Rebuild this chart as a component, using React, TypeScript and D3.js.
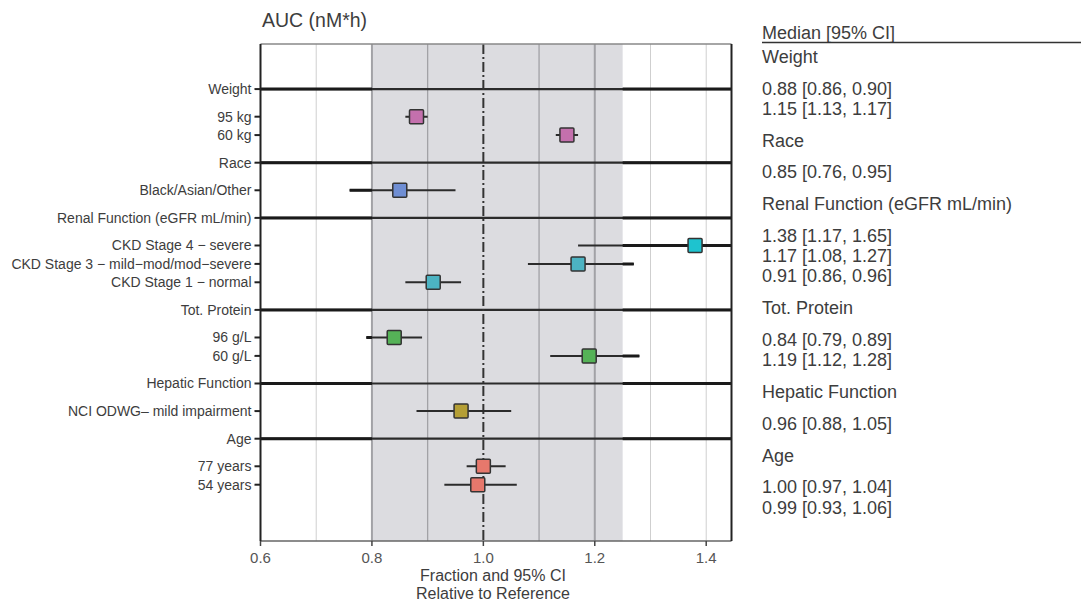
import React from "react";
import * as d3 from "d3";

const groupNames = ["Weight", "Race", "Renal Function (eGFR mL/min)", "Tot. Protein", "Hepatic Function", "Age"];
const rowGroup = [0, 0, 1, 2, 2, 2, 3, 3, 4, 5, 5];
const rowLabels = [
  "95 kg",
  "60 kg",
  "Black/Asian/Other",
  "CKD Stage 4 \u2212 severe",
  "CKD Stage 3 \u2212 mild\u2212mod/mod\u2212severe",
  "CKD Stage 1 \u2212 normal",
  "96 g/L",
  "60 g/L",
  "NCI ODWG\u2013 mild impairment",
  "77 years",
  "54 years",
];
const medians = [0.88, 1.15, 0.85, 1.38, 1.17, 0.91, 0.84, 1.19, 0.96, 1.0, 0.99];
const lowers = [0.86, 1.13, 0.76, 1.17, 1.08, 0.86, 0.79, 1.12, 0.88, 0.97, 0.93];
const uppers = [0.9, 1.17, 0.95, 1.65, 1.27, 0.96, 0.89, 1.28, 1.05, 1.04, 1.06];
const rowColors = ["#c470ad", "#c470ad", "#6f8ed3", "#1ec3cf", "#4cb3c2", "#4cb3c2", "#55b257", "#55b257", "#b59f35", "#e7786c", "#e7786c"];
const xTicks = [0.6, 0.8, 1.0, 1.2, 1.4];
const lightGrid = [0.7, 1.3, 1.4];
const bandGrid = [0.8, 0.9, 1.1, 1.2];
const bandRange = [0.8, 1.25];

const W = 1081;
const H = 603;
const left = 260.5;
const right = 731.5;
const top = 44;
const bottom = 541;

const fmt = d3.format(".2f");

type Entry = { kind: "header" | "row"; label: string; u: number; idx: number };

function buildEntries(): Entry[] {
  const out: Entry[] = [];
  let u = 0;
  groupNames.forEach((g, gi) => {
    if (gi > 0) u += 1.5;
    out.push({ kind: "header", label: g, u, idx: gi });
    let first = true;
    rowGroup.forEach((rg, ri) => {
      if (rg !== gi) return;
      u += first ? 1.5 : 1;
      first = false;
      out.push({ kind: "row", label: rowLabels[ri], u, idx: ri });
    });
  });
  return out;
}

export default function App() {
  const entries = buildEntries();
  const x = d3.scaleLinear().domain([0.6, 1.4454]).range([left, right]);
  const y = d3.scaleLinear().domain([-2.45, 24.56]).range([top, bottom]);
  const font = "Liberation Sans, Arial, sans-serif";
  const sq = 14;

  const textItems: { label: string; y: number; header: boolean }[] = [];
  let ty = 57;
  let prev: "header" | "row" | null = null;
  entries.forEach((e) => {
    if (prev !== null) {
      if (e.kind === "header") ty += 32;
      else if (prev === "header") ty += 31.5;
      else ty += 20.3;
    }
    prev = e.kind;
    if (e.kind === "header") textItems.push({ label: e.label, y: ty, header: true });
    else
      textItems.push({
        label: `${fmt(medians[e.idx])} [${fmt(lowers[e.idx])}, ${fmt(uppers[e.idx])}]`,
        y: ty,
        header: false,
      });
  });

  const rows = entries.filter((e) => e.kind === "row");
  const headers = entries.filter((e) => e.kind === "header");
  const txtCol = "#3d3d3d";

  return (
    <svg width={W} height={H} style={{ position: "absolute", left: 0, top: 0, background: "#fff" }} fontFamily={font}>
      <defs>
        <clipPath id="outsideBand">
          <rect x={left} y={top} width={x(bandRange[0]) - left} height={bottom - top} />
          <rect x={x(bandRange[1])} y={top} width={right - x(bandRange[1])} height={bottom - top} />
        </clipPath>
        <clipPath id="panel">
          <rect x={left} y={top} width={right - left} height={bottom - top} />
        </clipPath>
      </defs>
      <text x={262} y={20} fontSize={19.5} fill={txtCol} dominantBaseline="central">
        AUC (nM*h)
      </text>

      <rect x={x(bandRange[0])} y={top} width={x(bandRange[1]) - x(bandRange[0])} height={bottom - top} fill="#dcdce0" />
      {lightGrid.map((v) => (
        <line key={"lg" + v} x1={x(v)} x2={x(v)} y1={top} y2={bottom} stroke="#cfcfcf" strokeWidth={1} />
      ))}
      {bandGrid.map((v) => (
        <line
          key={"bg" + v}
          x1={x(v)}
          x2={x(v)}
          y1={top}
          y2={bottom}
          stroke="#a2a2a6"
          strokeWidth={v === 0.8 || v === 1.2 ? 2 : 1.3}
        />
      ))}

      {headers.map((h) => (
        <g key={"hl" + h.idx}>
          <line x1={left} x2={right} y1={y(h.u)} y2={y(h.u)} stroke="#2b2b2b" strokeWidth={2.2} />
          <line x1={left} x2={right} y1={y(h.u)} y2={y(h.u)} stroke="#1a1a1a" strokeWidth={3} clipPath="url(#outsideBand)" />
        </g>
      ))}

      <line x1={x(1)} x2={x(1)} y1={top} y2={bottom} stroke="#333" strokeWidth={2} strokeDasharray="10,3,2,3" />

      <g clipPath="url(#panel)">
        {rows.map((r) => (
          <g key={"ci" + r.idx}>
            <line x1={x(lowers[r.idx])} x2={x(uppers[r.idx])} y1={y(r.u)} y2={y(r.u)} stroke="#2b2b2b" strokeWidth={2} />
            <line
              x1={x(lowers[r.idx])}
              x2={x(uppers[r.idx])}
              y1={y(r.u)}
              y2={y(r.u)}
              stroke="#1a1a1a"
              strokeWidth={3}
              clipPath="url(#outsideBand)"
            />
          </g>
        ))}
      </g>

      {rows.map((r) => (
        <rect
          key={"sq" + r.idx}
          x={x(medians[r.idx]) - sq / 2}
          y={y(r.u) - sq / 2}
          width={sq}
          height={sq}
          fill={rowColors[r.idx]}
          stroke="#333"
          strokeWidth={1.5}
          rx={1}
        />
      ))}

      <line x1={left} x2={right} y1={top} y2={top} stroke="#888" strokeWidth={1.5} />
      <line x1={left} x2={right} y1={bottom} y2={bottom} stroke="#666" strokeWidth={1.5} />
      <line x1={left} x2={left} y1={top} y2={bottom} stroke="#222" strokeWidth={2} />
      <line x1={right} x2={right} y1={top} y2={bottom} stroke="#222" strokeWidth={2} />

      {entries.map((e, i) => (
        <g key={"yl" + i}>
          <line x1={left - 6} x2={left} y1={y(e.u)} y2={y(e.u)} stroke="#222" strokeWidth={2} />
          <text x={left - 9} y={y(e.u)} fontSize={14} fill={txtCol} textAnchor="end" dominantBaseline="central">
            {e.label}
          </text>
        </g>
      ))}

      {xTicks.map((v) => (
        <g key={"xt" + v}>
          <line x1={x(v)} x2={x(v)} y1={bottom} y2={bottom + 5} stroke="#444" strokeWidth={1.5} />
          <text x={x(v)} y={bottom + 16} fontSize={15} fill="#555" textAnchor="middle" dominantBaseline="central">
            {d3.format(".1f")(v)}
          </text>
        </g>
      ))}
      <text x={493} y={575} fontSize={16} fill={txtCol} textAnchor="middle" dominantBaseline="central">
        Fraction and 95% CI
      </text>
      <text x={493} y={593.5} fontSize={16} fill={txtCol} textAnchor="middle" dominantBaseline="central">
        Relative to Reference
      </text>

      <text x={762} y={33} fontSize={18} fill={txtCol} dominantBaseline="central">
        Median [95% CI]
      </text>
      <line x1={762} x2={1081} y1={42.5} y2={42.5} stroke="#333" strokeWidth={1.5} />
      {textItems.map((t, i) => (
        <text key={"tx" + i} x={762} y={t.y} fontSize={18} fill={txtCol} dominantBaseline="central">
          {t.label}
        </text>
      ))}
    </svg>
  );
}
